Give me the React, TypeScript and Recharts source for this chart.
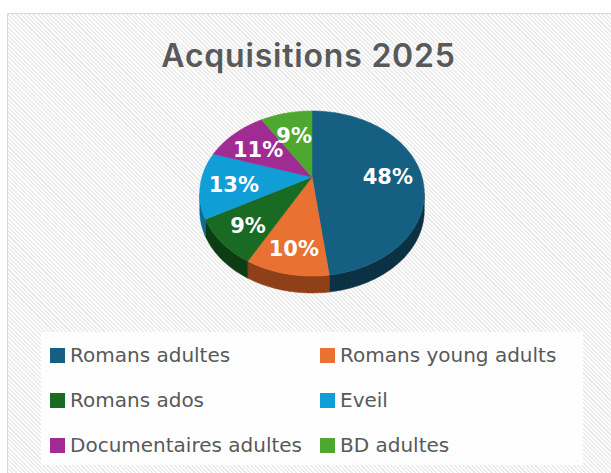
import React from 'react';
import { PieChart, Pie, Legend } from 'recharts';

const title = 'Acquisitions 2025';
const categories = ['Romans adultes', 'Romans young adults', 'Romans ados', 'Eveil', 'Documentaires adultes', 'BD adultes'];
const shares = [48, 10, 9, 13, 11, 9];
const colors = ['#156082', '#E97132', '#196B24', '#0F9ED5', '#A02B93', '#4EA72E'];
const sideColors = ['#0b3144', '#8f4018', '#0e3d14', '#0a6d93', '#6a1c61', '#2f6a1b'];

const data = categories.map((name, i) => ({ name, value: shares[i] }));

const TILT = 0.72;
const PERSP = 0.2;
const DEPTH = 17;
const LABEL_F = 0.7;
const LABEL_PERSP = 0.3;
const LABEL_DY = 3;

function proj(cx: number, cy: number, r: number, deg: number, f = 1, persp = PERSP): [number, number] {
  const t = (deg * Math.PI) / 180;
  const s = Math.sin(t);
  const c = Math.cos(t);
  const d = 1 + persp * f * s;
  return [cx + (r * f * c) / d, cy - (r * TILT * f * s) / d];
}

function arcPts(cx: number, cy: number, r: number, a0: number, a1: number, dy = 0) {
  const n = Math.max(2, Math.ceil(Math.abs(a1 - a0) / 1.5));
  const pts: string[] = [];
  for (let k = 0; k <= n; k++) {
    const a = a0 + ((a1 - a0) * k) / n;
    const [x, y] = proj(cx, cy, r, a);
    pts.push(`${x.toFixed(2)},${(y + dy).toFixed(2)}`);
  }
  return pts;
}

const renderSide = (p: any) => {
  const { cx, cy, outerRadius, startAngle, endAngle, index } = p;
  const lo = Math.min(startAngle, endAngle);
  const hi = Math.max(startAngle, endAngle);
  const edge = (Math.asin(PERSP) * 180) / Math.PI;
  const parts: React.ReactNode[] = [];
  for (let k = -1; k <= 1; k++) {
    const vlo = -180 + edge + 360 * k;
    const vhi = -edge + 360 * k;
    const a = Math.max(lo, vlo);
    const b = Math.min(hi, vhi);
    if (b > a) {
      const top = arcPts(cx, cy, outerRadius, a, b);
      const bot = arcPts(cx, cy, outerRadius, b, a, DEPTH);
      parts.push(
        <path key={k} d={`M${top.join(' L')} L${bot.join(' L')} Z`} fill={sideColors[index]} stroke={sideColors[index]} strokeWidth={0.5} />
      );
    }
  }
  return <g>{parts}</g>;
};

const renderTop = (p: any) => {
  const { cx, cy, outerRadius, startAngle, endAngle, index } = p;
  const pts = arcPts(cx, cy, outerRadius, startAngle, endAngle);
  return (
    <path
      d={`M${cx},${cy} L${pts.join(' L')} Z`}
      fill={colors[index]}
      stroke={colors[index]}
      strokeWidth={0.6}
    />
  );
};

const renderText = (p: any) => {
  const { cx, cy, outerRadius, midAngle, percent } = p;
  const [x, y] = proj(cx, cy, outerRadius, midAngle, LABEL_F, LABEL_PERSP);
  return (
    <text
      x={x}
      y={y + LABEL_DY}
      fill="#ffffff"
      textAnchor="middle"
      dominantBaseline="central"
      style={{ fontFamily: 'DejaVu Sans', fontWeight: 700, fontSize: 21 }}
    >
      {`${Math.round(percent * 100)}%`}
    </text>
  );
};

const renderLegend = () => {
  return (
    <div style={{ position: 'relative', width: 542, height: 133 }}>
      {categories.map((name, i) => {
        const col = i % 2;
        const row = Math.floor(i / 2);
        return (
          <div
            key={name}
            style={{
              position: 'absolute',
              left: col ? 279 : 9,
              top: 16 + row * 45,
              height: 15,
              display: 'flex',
              alignItems: 'center',
            }}
          >
            <span style={{ display: 'inline-block', width: 15, height: 15, background: colors[i] }} />
            <span
              style={{
                marginLeft: 5,
                fontFamily: 'DejaVu Sans',
                fontSize: 20,
                color: '#595959',
                whiteSpace: 'nowrap',
                lineHeight: '15px',
              }}
            >
              {name}
            </span>
          </div>
        );
      })}
    </div>
  );
};

export default function App() {
  return (
    <div style={{ position: 'absolute', left: 0, top: 0, width: 611, height: 473, overflow: 'hidden', background: '#ffffff' }}>
      <div
        style={{
          position: 'absolute',
          left: 7,
          top: 13,
          width: 640,
          height: 500,
          border: '1.5px solid #d9d9d9',
          background: 'repeating-linear-gradient(45deg, #ffffff 0px, #ffffff 1.5px, #ebebeb 1.5px, #ebebeb 3px)',
        }}
      />
      <div style={{ position: 'absolute', left: 41, top: 332, width: 542, height: 133, background: 'rgba(255,255,255,0.88)' }} />
      <svg width={611} height={100} style={{ position: 'absolute', left: 0, top: 0 }}>
        <text
          x={308.5}
          y={67}
          textAnchor="middle"
          fill="#595959"
          letterSpacing={0.8}
          style={{ fontFamily: 'Inter', fontWeight: 600, fontSize: 32 }}
        >
          {title}
        </text>
      </svg>
      <div style={{ position: 'absolute', left: 0, top: 0 }}>
        <PieChart width={611} height={473} margin={{ top: 0, right: 0, bottom: 0, left: 0 }}>
          <Pie
            data={data}
            dataKey="value"
            nameKey="name"
            cx={312}
            cy={177}
            outerRadius={110}
            startAngle={90}
            endAngle={-270}
            fill="transparent"
            stroke="none"
            label={renderSide}
            labelLine={false}
            isAnimationActive={false}
          />
          <Pie
            data={data}
            dataKey="value"
            nameKey="name"
            cx={312}
            cy={177}
            outerRadius={110}
            startAngle={90}
            endAngle={-270}
            fill="transparent"
            stroke="none"
            label={renderTop}
            labelLine={false}
            legendType="none"
            isAnimationActive={false}
          />
          <Pie
            data={data}
            dataKey="value"
            nameKey="name"
            cx={312}
            cy={177}
            outerRadius={110}
            startAngle={90}
            endAngle={-270}
            fill="transparent"
            stroke="none"
            label={renderText}
            labelLine={false}
            legendType="none"
            isAnimationActive={false}
          />
          <Legend
            content={renderLegend}
            wrapperStyle={{ left: 41, top: 332, width: 542, height: 133 }}
          />
        </PieChart>
      </div>
    </div>
  );
}
